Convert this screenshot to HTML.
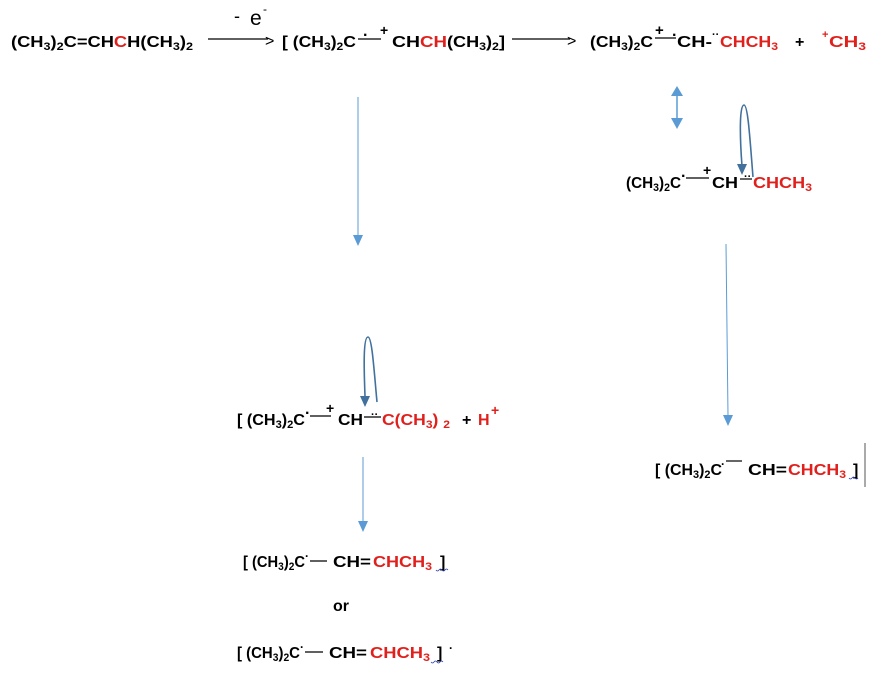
<!DOCTYPE html>
<html><head><meta charset="utf-8"><style>
html,body{margin:0;padding:0;background:#fff;width:895px;height:678px;overflow:hidden}
svg{display:block}
text{font-family:"Liberation Sans",Arial,sans-serif;font-weight:bold;font-size:16px;fill:#000}
.r{fill:#e0201c}
.s{font-size:11px}
.t{font-weight:normal}
</style></head><body>
<svg width="895" height="678" viewBox="0 0 895 678" xmlns="http://www.w3.org/2000/svg">
<!-- Row 1 -->
<text x="11" y="47" textLength="182" lengthAdjust="spacingAndGlyphs">(CH<tspan class="s" dy="3">3</tspan><tspan dy="-3">)</tspan><tspan class="s" dy="3">2</tspan><tspan dy="-3">C=CH</tspan><tspan class="r">C</tspan>H(CH<tspan class="s" dy="3">3</tspan><tspan dy="-3">)</tspan><tspan class="s" dy="3">2</tspan></text>
<text class="t" x="234" y="22" style="font-size:18px">-</text>
<text class="t" x="250" y="25" style="font-size:21px">e</text>
<text class="t" x="263" y="13" style="font-size:12px">-</text>
<line x1="208" y1="39" x2="268" y2="39" stroke="#000" stroke-width="1.2"/>
<text x="265" y="46" style="font-weight:normal">&gt;</text>
<text x="282" y="47" textLength="74" lengthAdjust="spacingAndGlyphs">[ (CH<tspan class="s" dy="3">3</tspan><tspan dy="-3">)</tspan><tspan class="s" dy="3">2</tspan><tspan dy="-3">C</tspan></text>
<text x="363" y="40">·</text>
<line x1="358" y1="39" x2="381" y2="39" stroke="#000" stroke-width="1.2"/>
<text x="380" y="35" style="font-size:14px">+</text>
<text x="392" y="47" textLength="28" lengthAdjust="spacingAndGlyphs">CH</text>
<text x="420" y="47" class="r" textLength="27" lengthAdjust="spacingAndGlyphs">CH</text>
<text x="447" y="47" textLength="58" lengthAdjust="spacingAndGlyphs">(CH<tspan class="s" dy="3">3</tspan><tspan dy="-3">)</tspan><tspan class="s" dy="3">2</tspan><tspan dy="-3">]</tspan></text>
<line x1="512" y1="39" x2="570" y2="39" stroke="#000" stroke-width="1.2"/>
<text x="567" y="46" style="font-weight:normal">&gt;</text>
<text x="590" y="47" textLength="63" lengthAdjust="spacingAndGlyphs">(CH<tspan class="s" dy="3">3</tspan><tspan dy="-3">)</tspan><tspan class="s" dy="3">2</tspan><tspan dy="-3">C</tspan></text>
<text x="655" y="35" style="font-size:15px">+</text>
<line x1="655" y1="38" x2="676" y2="38" stroke="#000" stroke-width="1.2"/>
<text x="672" y="40">·</text>
<text x="677" y="47" textLength="35" lengthAdjust="spacingAndGlyphs">CH-</text>
<text x="712" y="38" style="font-size:11px">··</text>
<text x="720" y="47" class="r" textLength="58" lengthAdjust="spacingAndGlyphs">CHCH<tspan class="s" dy="3">3</tspan></text>
<text x="795" y="47">+</text>
<text x="822" y="38" class="r" style="font-size:11px">+</text>
<text x="829" y="47" class="r" textLength="37" lengthAdjust="spacingAndGlyphs">CH<tspan class="s" dy="3">3</tspan></text>

<!-- double arrow -->
<line x1="677" y1="92" x2="677" y2="122" stroke="#5b9bd5" stroke-width="1.5"/>
<path d="M671,96 L677,86 L683,96 z" fill="#5b9bd5"/>
<path d="M671,118 L677,129 L683,118 z" fill="#5b9bd5"/>

<!-- Row 3 right -->
<path d="M753,177 C750,140 748,105 744,105 C739,105 740,140 742,166" fill="none" stroke="#41719c" stroke-width="1.6"/>
<path d="M737,164 L742,175 L747,164 z" fill="#41719c"/>
<text x="626" y="188" textLength="55" lengthAdjust="spacingAndGlyphs">(CH<tspan class="s" dy="3">3</tspan><tspan dy="-3">)</tspan><tspan class="s" dy="3">2</tspan><tspan dy="-3">C</tspan></text>
<text x="681" y="181">·</text>
<line x1="686" y1="178" x2="709" y2="178" stroke="#000" stroke-width="1.2"/>
<text x="703" y="175" style="font-size:14px">+</text>
<text x="712" y="188" textLength="26" lengthAdjust="spacingAndGlyphs">CH</text>
<line x1="740" y1="179" x2="752" y2="179" stroke="#000" stroke-width="1.2"/>
<text x="744" y="180" style="font-size:11px">··</text>
<text x="753" y="188" class="r" textLength="59" lengthAdjust="spacingAndGlyphs">CHCH<tspan class="s" dy="3">3</tspan></text>

<!-- vertical arrows -->
<line x1="358" y1="97" x2="358" y2="236" stroke="#5b9bd5" stroke-width="1"/>
<path d="M353,235 L358,246 L363,235 z" fill="#5b9bd5"/>
<line x1="363" y1="457" x2="363" y2="522" stroke="#5b9bd5" stroke-width="1"/>
<path d="M358,521 L363,532 L368,521 z" fill="#5b9bd5"/>
<line x1="726" y1="244" x2="728" y2="416" stroke="#5b9bd5" stroke-width="1"/>
<path d="M723,415 L728,426 L733,415 z" fill="#5b9bd5"/>

<!-- Row 4 -->
<path d="M377,402 C374,370 372,337 368,337 C363,337 364,370 365,396" fill="none" stroke="#41719c" stroke-width="1.6"/>
<path d="M360,396 L365,407 L370,396 z" fill="#41719c"/>
<text x="237" y="425" textLength="68" lengthAdjust="spacingAndGlyphs">[ (CH<tspan class="s" dy="3">3</tspan><tspan dy="-3">)</tspan><tspan class="s" dy="3">2</tspan><tspan dy="-3">C</tspan></text>
<text x="305" y="418">·</text>
<line x1="310" y1="416" x2="331" y2="416" stroke="#000" stroke-width="1.2"/>
<text x="326" y="413" style="font-size:14px">+</text>
<text x="338" y="425" textLength="25" lengthAdjust="spacingAndGlyphs">CH</text>
<line x1="364" y1="417" x2="381" y2="417" stroke="#000" stroke-width="1.2"/>
<text x="371" y="418" style="font-size:11px">··</text>
<text x="382" y="425" class="r" textLength="68" lengthAdjust="spacingAndGlyphs">C(CH<tspan class="s" dy="3">3</tspan><tspan dy="-3">) </tspan><tspan class="s" dy="3">2</tspan></text>
<text x="462" y="425">+</text>
<text x="478" y="425" class="r">H</text>
<text x="491" y="415" class="r" style="font-size:14px">+</text>

<!-- Row 5 -->
<text x="243" y="567" textLength="62" lengthAdjust="spacingAndGlyphs">[ (CH<tspan class="s" dy="3">3</tspan><tspan dy="-3">)</tspan><tspan class="s" dy="3">2</tspan><tspan dy="-3">C</tspan></text>
<text x="305" y="560" style="font-size:12px">·</text>
<line x1="310" y1="561" x2="327" y2="561" stroke="#000" stroke-width="1.2"/>
<text x="333" y="567" textLength="38" lengthAdjust="spacingAndGlyphs">CH=</text>
<text x="373" y="567" class="r" textLength="59" lengthAdjust="spacingAndGlyphs">CHCH<tspan class="s" dy="3">3</tspan></text>
<text x="440" y="567">]</text>
<path d="M436,570 q1.5,2 3,0 t3,0 t3,0 t3,0" fill="none" stroke="#2b3fb0" stroke-width="0.8"/>
<text x="333" y="611">or</text>
<text x="237" y="658" textLength="63" lengthAdjust="spacingAndGlyphs">[ (CH<tspan class="s" dy="3">3</tspan><tspan dy="-3">)</tspan><tspan class="s" dy="3">2</tspan><tspan dy="-3">C</tspan></text>
<text x="300" y="651" style="font-size:12px">·</text>
<line x1="305" y1="652" x2="323" y2="652" stroke="#000" stroke-width="1.2"/>
<text x="329" y="658" textLength="38" lengthAdjust="spacingAndGlyphs">CH=</text>
<text x="370" y="658" class="r" textLength="60" lengthAdjust="spacingAndGlyphs">CHCH<tspan class="s" dy="3">3</tspan></text>
<text x="437" y="658">]</text>
<text x="449" y="652" style="font-size:12px">·</text>
<path d="M431,662 q1.5,2 3,0 t3,0 t3,0 t3,0" fill="none" stroke="#2b3fb0" stroke-width="0.8"/>

<!-- Row 6 right -->
<text x="655" y="475" textLength="67" lengthAdjust="spacingAndGlyphs">[ (CH<tspan class="s" dy="3">3</tspan><tspan dy="-3">)</tspan><tspan class="s" dy="3">2</tspan><tspan dy="-3">C</tspan></text>
<text x="721" y="468" style="font-size:12px">·</text>
<line x1="726" y1="461" x2="742" y2="461" stroke="#000" stroke-width="1.2"/>
<text x="748" y="475" textLength="39" lengthAdjust="spacingAndGlyphs">CH=</text>
<text x="788" y="475" class="r" textLength="58" lengthAdjust="spacingAndGlyphs">CHCH<tspan class="s" dy="3">3</tspan></text>
<text x="853" y="475">]</text>
<path d="M849,478 q1.5,2 3,0 t3,0 t3,0" fill="none" stroke="#2b3fb0" stroke-width="0.8"/>
<line x1="865" y1="443" x2="865" y2="487" stroke="#555" stroke-width="1"/>
</svg>
</body></html>
